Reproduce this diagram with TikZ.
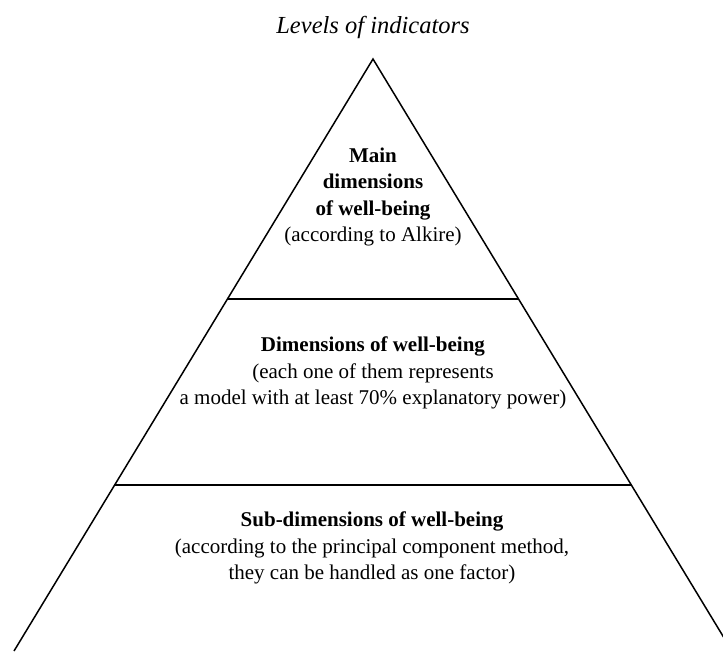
\documentclass[tikz,border=0pt]{standalone}
\usepackage{fontspec}
\setmainfont{Liberation Serif}
\usetikzlibrary{calc}

\begin{document}
\begin{tikzpicture}[x=1pt,y=-1pt,line width=1.5pt,
  every node/.style={align=center,font=\fontsize{21}{26.5}\selectfont}]
\useasboundingbox (0,0) rectangle (723,651);
\coordinate (apex) at (373,59);
\coordinate (baseL) at (14,651);
\coordinate (baseR) at (732,651);
\coordinate (cut1L) at ($(apex)!0.4054!(baseL)$);
\coordinate (cut1R) at ($(apex)!0.4054!(baseR)$);
\coordinate (cut2L) at ($(apex)!0.7196!(baseL)$);
\coordinate (cut2R) at ($(apex)!0.7196!(baseR)$);
\draw (baseL) -- (apex) -- (baseR);
\draw (cut1L) -- (cut1R); \draw (cut2L) -- (cut2R);
\node[font=\fontsize{24.5}{28}\selectfont\itshape,anchor=base] (title) at (373,33) {Levels of indicators};
\node (main) at (373,197) {\textbf{Main}\\ \textbf{dimensions}\\ \textbf{of well-being}\\ (according to Alkire)};
\node (dims) at (373,373) {\textbf{Dimensions of well-being}\\ (each one of them represents\\ a model with at least 70\% explanatory power)};
\node (subdims) at (372,548) {\textbf{Sub-dimensions of well-being}\\ (according to the principal component method,\\ they can be handled as one factor)};
\end{tikzpicture}
\end{document}
